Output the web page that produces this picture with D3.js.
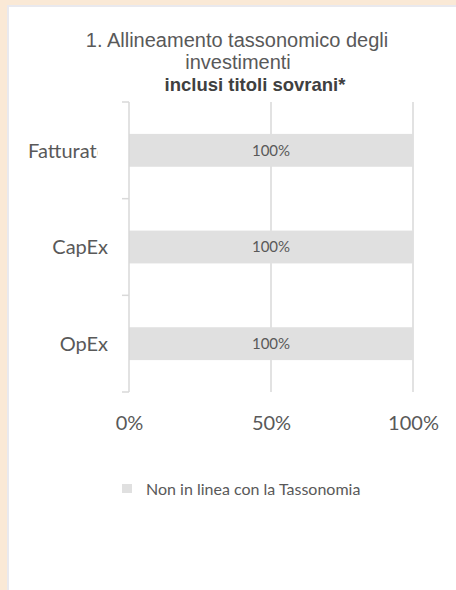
<!DOCTYPE html>
<html>
<head>
<meta charset="utf-8">
<script src="https://cdn.jsdelivr.net/npm/d3@7"></script>
<style>
  html, body { margin: 0; padding: 0; background: #fae9d6; }
  #chart { width: 456px; height: 590px; }
</style>
</head>
<body>
<div id="chart"></div>
<script>
// data
const categories = ["Fatturato", "CapEx", "OpEx"];
const nonAligned = [100, 100, 100];
const xTicks = [0, 50, 100];
const titleLines = ["1. Allineamento tassonomico degli", "investimenti"];
const titleBold = "inclusi titoli sovrani*";
const legendLabel = "Non in linea con la Tassonomia";

const width = 456;
const height = 590;
const margin = {top: 102, right: 43, bottom: 198, left: 129};
const barColor = "#e0e0e0";
const gridColor = "#d9d9d9";
const textColor = "#595959";
const labelFont = "Lato, 'Open Sans', sans-serif";

const svg = d3.select("#chart")
    .append("svg")
    .attr("width", width)
    .attr("height", height);

// panel: beige surround, grey edge, white card
svg.append("rect")
    .attr("x", 7).attr("y", 5)
    .attr("width", width - 7).attr("height", height - 5)
    .attr("fill", "#e9e9ee");
svg.append("rect")
    .attr("x", 9).attr("y", 7)
    .attr("width", width - 9).attr("height", height - 7)
    .attr("fill", "#ffffff");

// title
const title = svg.append("text")
    .attr("text-anchor", "middle")
    .style("font-family", "'Liberation Sans', Arial, sans-serif")
    .style("font-size", "20px")
    .style("fill", textColor);
title.append("tspan").attr("x", 237).attr("y", 47).text(titleLines[0]);
title.append("tspan").attr("x", 238).attr("y", 69).text(titleLines[1]);
title.append("tspan").attr("x", 255).attr("y", 91)
    .style("font-weight", "bold")
    .style("font-size", "18.5px")
    .style("fill", "#404040")
    .text(titleBold);

const x = d3.scaleLinear()
    .domain([0, 100])
    .range([margin.left, width - margin.right]);

const y = d3.scaleBand()
    .domain(categories)
    .range([margin.top, height - margin.bottom])
    .paddingInner(0.66)
    .paddingOuter(0.33);

const yOuter = d3.scaleBand()
    .domain(categories)
    .range([margin.top, height - margin.bottom]);

// gridlines
svg.append("g")
    .selectAll("line")
    .data(xTicks.slice(1))
    .enter().append("line")
    .attr("x1", d => x(d)).attr("x2", d => x(d))
    .attr("y1", margin.top).attr("y2", height - margin.bottom)
    .attr("stroke", gridColor)
    .attr("stroke-width", 1.5);

// bars
svg.append("g")
    .selectAll("rect")
    .data(categories)
    .enter().append("rect")
    .attr("x", x(0))
    .attr("y", d => y(d))
    .attr("width", (d, i) => x(nonAligned[i]) - x(0))
    .attr("height", y.bandwidth())
    .attr("fill", barColor);

// bar labels
svg.append("g")
    .selectAll("text")
    .data(categories)
    .enter().append("text")
    .attr("x", (d, i) => x(nonAligned[i] / 2))
    .attr("y", d => y(d) + y.bandwidth() / 2)
    .attr("dy", "0.36em")
    .attr("text-anchor", "middle")
    .style("font-family", labelFont)
    .style("font-size", "15px")
    .style("fill", textColor)
    .text((d, i) => nonAligned[i] + "%");

// y axis with category-boundary ticks
const yAxisG = svg.append("g");
yAxisG.append("line")
    .attr("x1", margin.left).attr("x2", margin.left)
    .attr("y1", margin.top).attr("y2", height - margin.bottom)
    .attr("stroke", gridColor)
    .attr("stroke-width", 1.5);
const bounds = categories.map(c => yOuter(c)).concat([height - margin.bottom]);
yAxisG.selectAll(".tick")
    .data(bounds)
    .enter().append("line")
    .attr("x1", margin.left - 7).attr("x2", margin.left)
    .attr("y1", d => d).attr("y2", d => d)
    .attr("stroke", gridColor)
    .attr("stroke-width", 1.5);
// long label is cut at the label area, as in the source ("Fatturat")
svg.append("clipPath")
    .attr("id", "label-clip")
    .append("rect")
    .attr("x", 9).attr("y", margin.top)
    .attr("width", 88.5).attr("height", 96);
yAxisG.selectAll(".label")
    .data(categories)
    .enter().append("text")
    .attr("x", margin.left - 21)
    .attr("y", d => yOuter(d) + yOuter.bandwidth() / 2)
    .attr("dy", "0.36em")
    .attr("text-anchor", "end")
    .attr("clip-path", (d, i) => i === 0 ? "url(#label-clip)" : null)
    .style("font-family", labelFont)
    .style("font-size", "20px")
    .style("fill", textColor)
    .text(d => d);

// x axis labels
const xAxis = d3.axisBottom(x)
    .tickValues(xTicks)
    .tickFormat(d => d + "%")
    .tickSize(0)
    .tickPadding(24);
const gx = svg.append("g")
    .attr("transform", `translate(0,${height - margin.bottom})`)
    .call(xAxis);
gx.select(".domain").remove();
gx.selectAll("text")
    .style("font-family", labelFont)
    .style("font-size", "20px")
    .style("fill", textColor);

// legend
const legend = svg.append("g").attr("transform", "translate(122,484)");
legend.append("rect")
    .attr("width", 10).attr("height", 9)
    .attr("fill", barColor);
legend.append("text")
    .attr("x", 24).attr("y", 5.5)
    .attr("dy", "0.36em")
    .style("font-family", labelFont)
    .style("font-size", "16px")
    .style("fill", textColor)
    .text(legendLabel);
</script>
</body>
</html>
